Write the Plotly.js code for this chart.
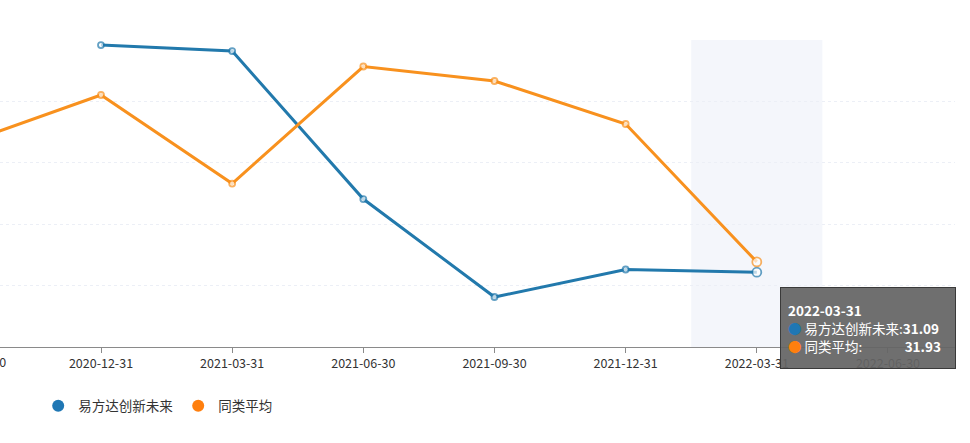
<!DOCTYPE html>
<html>
<head>
<meta charset="utf-8">
<script src="https://cdn.plot.ly/plotly-3.0.1.min.js"></script>
<style>html,body{margin:0;padding:0;background:#fff;}#chart{width:970px;height:443px;}</style>
</head>
<body>
<div id="chart"></div>
<script>
const categories = ["2020-09-30","2020-12-31","2021-03-31","2021-06-30","2021-09-30","2021-12-31","2022-03-31","2022-06-30"];
const fundName = "易方达创新未来";
const avgName = "同类平均";
const fundValues = [null, 49.59, 49.10, 37.05, 29.07, 31.31, 31.09, null];
const avgValues = [41.72, 45.52, 38.31, 47.84, 46.66, 43.16, 31.93, null];
const hoverIndex = 6;

const blue = "#2279ac";
const orange = "#f8911e";
const font = "'Microsoft YaHei','Noto Sans CJK SC','Noto Sans',sans-serif";

function sizes(arr){ return arr.map((v,i)=> i===hoverIndex ? 9 : 6); }

const traces = [
  {x: categories, y: fundValues, type:"scatter", mode:"lines+markers", name: fundName, showlegend:false,
   line:{color:blue, width:3}, marker:{symbol:"circle", size:sizes(fundValues), color:"#fff", line:{color:blue, width:1.8}}, hoverinfo:"skip"},
  {x: categories, y: avgValues, type:"scatter", mode:"lines+markers", name: avgName, showlegend:false,
   line:{color:orange, width:3}, marker:{symbol:"circle", size:sizes(avgValues), color:"#fff", line:{color:orange, width:1.8}}, hoverinfo:"skip"},
  {x:[null], y:[null], type:"scatter", mode:"markers", name: fundName, marker:{color:"#1f77b4", size:12}},
  {x:[null], y:[null], type:"scatter", mode:"markers", name: avgName, marker:{color:"#ff7f0e", size:12}}
];

const tipText = "<b>" + categories[hoverIndex] + "</b><br>" +
  "<span style='color:#1f77b4'>●</span>&nbsp;" + fundName + ":<b>" + fundValues[hoverIndex].toFixed(2) + "</b><br>" +
  "<span style='color:#ff7f0e'>●</span>&nbsp;" + avgName + ":&nbsp;&nbsp;&nbsp;&nbsp;&nbsp;&nbsp;&nbsp;&nbsp;&nbsp;&nbsp;&nbsp;&nbsp;&nbsp;&nbsp;<b>" + avgValues[hoverIndex].toFixed(2) + "</b>";

const layout = {
  width: 970, height: 443,
  margin: {l:0, r:15, t:40, b:96},
  paper_bgcolor:"#fff", plot_bgcolor:"#fff",
  font: {family: font, size: 12, color:"#333"},
  showlegend: true,
  legend: {orientation:"h", x:0.040, xanchor:"left", y:-0.192, yanchor:"middle", font:{size:13.5, color:"#333"}, itemwidth:30},
  xaxis: {type:"category", range:[0.230, 7.511], showline:true, linecolor:"#8a8a8a", linewidth:1,
          ticks:"outside", ticklen:5, tickcolor:"#8a8a8a", showgrid:false, zeroline:false,
          tickfont:{size:12.5, color:"#333"}, fixedrange:true},
  yaxis: {range:[25,50], dtick:5, showticklabels:false, showgrid:true, gridcolor:"#eceff6", griddash:"dot",
          gridwidth:1, zeroline:false, showline:false, ticks:"", fixedrange:true},
  shapes: [{type:"rect", xref:"x", yref:"paper", x0:hoverIndex-0.5, x1:hoverIndex+0.5, y0:0, y1:1,
            fillcolor:"#f4f6fb", line:{width:0}, layer:"below"}],
  annotations: [
    {xref:"paper", yref:"paper", x:-26/955, y:0, xanchor:"center", yanchor:"top", yshift:-3, showarrow:false,
     text: categories[0], font:{size:12.5, color:"#333"}},
    {xref:"paper", yref:"paper", x:780/955, y:(347-287)/307, xanchor:"left", yanchor:"top", showarrow:false,
     text: tipText, align:"left", valign:"middle", width:160, height:66,
     bgcolor:"rgba(100,100,100,0.93)", bordercolor:"#3a3a3a", borderwidth:1, borderpad:7,
     font:{family:font, size:13.5, color:"#fff"}}
  ]
};

Plotly.newPlot("chart", traces, layout, {displayModeBar:false, staticPlot:true});
</script>
</body>
</html>
